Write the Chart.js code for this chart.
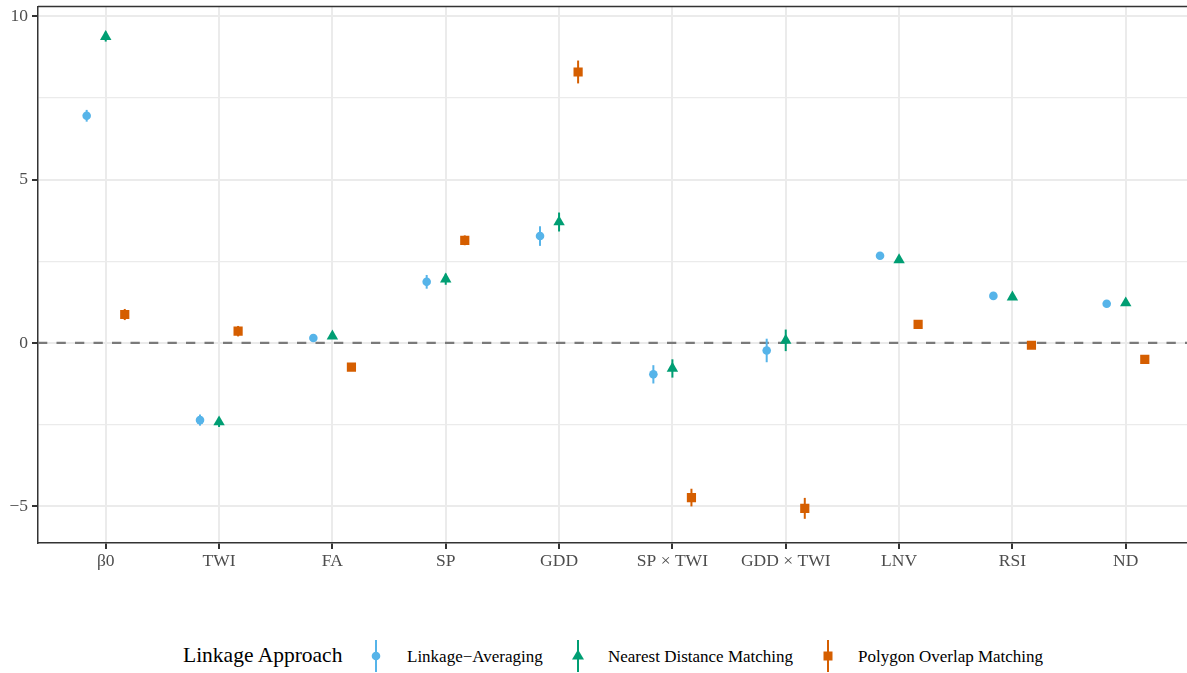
<!DOCTYPE html>
<html>
<head>
<meta charset="utf-8">
<script src="https://cdn.jsdelivr.net/npm/chart.js@4"></script>
<style>
  html, body { margin: 0; padding: 0; background: #fff; }
  #wrap { position: relative; width: 1187px; height: 673px; overflow: hidden; font-family: 'Liberation Serif', 'DejaVu Serif', serif; }
  #chart { position: absolute; left: 0; top: 0; }
  .lg { position: absolute; white-space: nowrap; color: #000; line-height: 1; }
  .lg svg { position: absolute; }
</style>
</head>
<body>
<div id="wrap">
  <canvas id="chart" width="1194" height="600"></canvas>
  <div class="lg" style="left:183px; top:645px; font-size:21.5px;">Linkage Approach</div>
  <svg class="lg" style="left:366px; top:639px;" width="20" height="34"><line x1="10" y1="1" x2="10" y2="33" stroke="#56B4E9" stroke-width="2"/><circle cx="10" cy="17" r="4.3" fill="#56B4E9"/></svg>
  <div class="lg" style="left:407px; top:648px; font-size:17px;">Linkage−Averaging</div>
  <svg class="lg" style="left:568px; top:639px;" width="20" height="34"><line x1="10" y1="1" x2="10" y2="33" stroke="#009E73" stroke-width="2"/><polygon points="10,10.5 16,20.5 4,20.5" fill="#009E73"/></svg>
  <div class="lg" style="left:608px; top:648px; font-size:17px;">Nearest Distance Matching</div>
  <svg class="lg" style="left:818px; top:639px;" width="20" height="34"><line x1="10" y1="1" x2="10" y2="33" stroke="#D55E00" stroke-width="2"/><rect x="5.5" y="12.5" width="9" height="9" fill="#D55E00"/></svg>
  <div class="lg" style="left:858px; top:648px; font-size:17px;">Polygon Overlap Matching</div>
</div>
<script>
const categories = ['β0', 'TWI', 'FA', 'SP', 'GDD', 'SP × TWI', 'GDD × TWI', 'LNV', 'RSI', 'ND'];

// estimates and half-width of the intervals, per linkage approach
const averagingEst = [6.95, -2.36, 0.15, 1.87, 3.27, -0.96, -0.23, 2.67, 1.44, 1.20];
const averagingErr = [0.18, 0.17, 0.08, 0.21, 0.30, 0.28, 0.36, 0.06, 0.12, 0.06];
const nearestEst = [9.37, -2.42, 0.21, 1.95, 3.70, -0.78, 0.08, 2.54, 1.40, 1.22];
const nearestErr = [0.15, 0.15, 0.08, 0.17, 0.29, 0.28, 0.33, 0.06, 0.06, 0.06];
const polygonEst = [0.87, 0.36, -0.74, 3.14, 8.29, -4.73, -5.06, 0.57, -0.07, -0.50];
const polygonErr = [0.17, 0.16, 0.06, 0.15, 0.35, 0.27, 0.32, 0.06, 0.06, 0.06];

const yTicks = [-5, -2.5, 0, 2.5, 5, 7.5, 10];
const dodge = 0.168;

const fontFamily = "'Liberation Serif', 'DejaVu Serif', serif";

function makeSet(label, est, err, offset, color, style, radius) {
  return {
    label: label,
    data: est.map((v, i) => ({ x: i + offset, y: v })),
    errors: err,
    backgroundColor: color,
    borderColor: color,
    borderWidth: 0,
    pointStyle: style,
    pointRadius: radius,
    pointHoverRadius: radius
  };
}

const errorBars = {
  id: 'errorBars',
  beforeDatasetsDraw(chart) {
    const { ctx, chartArea, scales } = chart;
    const yScale = scales.y;
    // dashed reference line at zero
    ctx.save();
    ctx.strokeStyle = '#7a7a7a';
    ctx.lineWidth = 2.2;
    ctx.setLineDash([9.3, 9.2]);
    const y0 = yScale.getPixelForValue(0);
    ctx.beginPath();
    ctx.moveTo(chartArea.left, y0);
    ctx.lineTo(chartArea.right, y0);
    ctx.stroke();
    ctx.setLineDash([]);
    // top border of the panel
    ctx.strokeStyle = '#333';
    ctx.lineWidth = 1.5;
    ctx.beginPath();
    ctx.moveTo(chartArea.left, chartArea.top);
    ctx.lineTo(chartArea.right, chartArea.top);
    ctx.stroke();

    chart.data.datasets.forEach((ds, di) => {
      const meta = chart.getDatasetMeta(di);
      ctx.strokeStyle = ds.borderColor;
      ctx.lineWidth = 2;
      meta.data.forEach((pt, i) => {
        const v = ds.data[i].y;
        const e = ds.errors[i];
        ctx.beginPath();
        ctx.moveTo(pt.x, yScale.getPixelForValue(v - e));
        ctx.lineTo(pt.x, yScale.getPixelForValue(v + e));
        ctx.stroke();
      });
    });
    ctx.restore();
  }
};

new Chart(document.getElementById('chart'), {
  type: 'scatter',
  data: {
    datasets: [
      makeSet('Linkage−Averaging', averagingEst, averagingErr, -dodge, '#56B4E9', 'circle', 4.3),
      makeSet('Nearest Distance Matching', nearestEst, nearestErr, 0, '#009E73', 'triangle', 6.6),
      makeSet('Polygon Overlap Matching', polygonEst, polygonErr, dodge, '#D55E00', 'rect', 6.5)
    ]
  },
  options: {
    responsive: false,
    animation: false,
    layout: { padding: { top: 4, right: 0, left: 0, bottom: 0 } },
    plugins: { legend: { display: false }, tooltip: { enabled: false } },
    scales: {
      x: {
        type: 'linear',
        min: -0.5975,
        max: 9.544,
        afterBuildTicks(scale) { scale.ticks = categories.map((c, i) => ({ value: i })); },
        afterFit(scale) { scale.height = 57; scale.paddingLeft = 0; scale.paddingRight = 0; },
        ticks: {
          autoSkip: false,
          maxRotation: 0,
          padding: 2,
          color: '#4D4D4D',
          font: { family: fontFamily, size: 17.5 },
          callback: (v) => categories[v]
        },
        grid: { color: '#EBEBEB', lineWidth: 2, tickColor: '#333', tickLength: 6, tickWidth: 2 },
        border: { display: true, color: '#333', width: 1.5 }
      },
      y: {
        min: -6.12,
        max: 10.29,
        afterBuildTicks(scale) { scale.ticks = yTicks.map(v => ({ value: v })); },
        afterFit(scale) { scale.width = 38; scale.paddingTop = 0; scale.paddingBottom = 0; },
        ticks: {
          padding: 4,
          color: '#4D4D4D',
          font: { family: fontFamily, size: 17.5 },
          callback: (v) => (v % 5 === 0 ? String(v).replace('-', '−') : '')
        },
        grid: {
          color: '#EBEBEB',
          lineWidth: (c) => (c.tick && c.tick.value % 5 === 0 ? 2 : 1.2),
          tickColor: (c) => (c.tick && c.tick.value % 5 === 0 ? '#333' : 'rgba(0,0,0,0)'),
          tickLength: 6,
          tickWidth: 2
        },
        border: { display: true, color: '#333', width: 1.5 }
      }
    }
  },
  plugins: [errorBars]
});
</script>
</body>
</html>
